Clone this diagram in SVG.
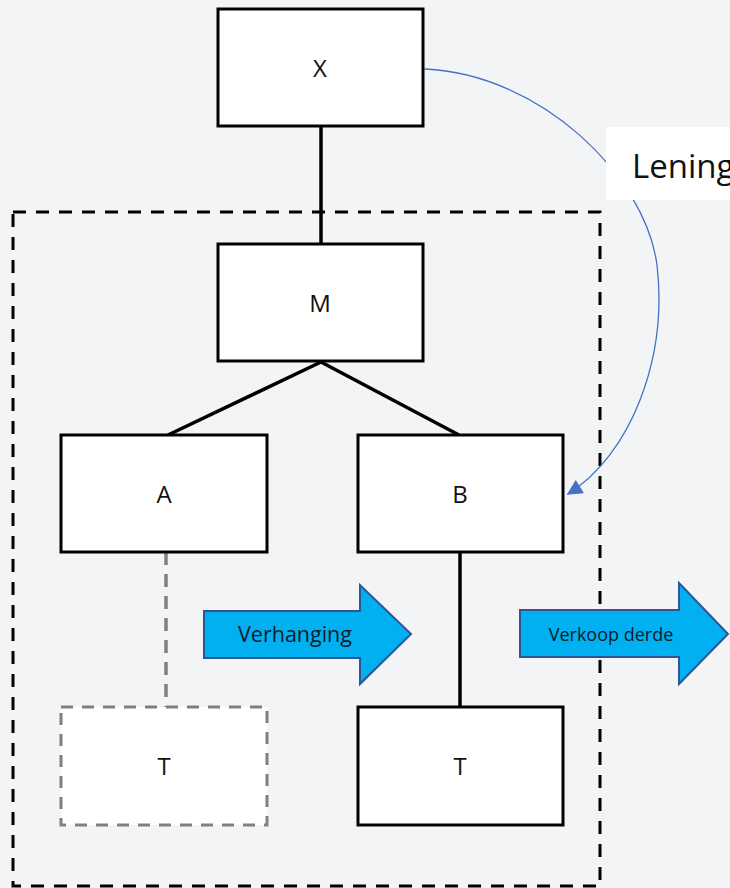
<svg xmlns="http://www.w3.org/2000/svg" width="730" height="888" viewBox="0 0 730 888">
  <style>
    .box { fill: #ffffff; stroke: #000000; stroke-width: 3; }
    .ghost { fill: #ffffff; stroke: #808080; stroke-width: 3; stroke-dasharray: 12 9; }
    .lbl { font-family: "Open Sans", "Liberation Sans", sans-serif; font-size: 24px; fill: #111111; text-anchor: middle; }
    .link { stroke: #000000; stroke-width: 3.5; fill: none; }
    .arrow { fill: #00b0f0; stroke: #2f5597; stroke-width: 2; }
    .alabel { font-family: "Open Sans", "Liberation Sans", sans-serif; fill: #0d1b2a; text-anchor: middle; }
  </style>
  <defs>
    <marker id="blueHead" viewBox="0 0 10 10" refX="9" refY="5" markerWidth="14" markerHeight="12" orient="auto-start-reverse" markerUnits="strokeWidth">
      <path d="M0,0 L10,5 L0,10 z" fill="#4472c4"/>
    </marker>
  </defs>
  <rect width="730" height="888" fill="#f3f4f6"/>

  <!-- group boundary -->
  <rect x="13" y="212" width="587" height="674" fill="none" stroke="#000" stroke-width="3" stroke-dasharray="13 10"/>

  <g id="connectors">
    <line class="link" x1="321" y1="126" x2="321" y2="244"/>
    <line class="link" x1="321" y1="362" x2="168" y2="435"/>
    <line class="link" x1="321" y1="362" x2="459" y2="435"/>
    <line x1="166" y1="552" x2="166" y2="707" stroke="#808080" stroke-width="3.5" stroke-dasharray="13 9"/>
    <line class="link" x1="460" y1="552" x2="460" y2="707"/>
    <path d="M425,69 C540,74 645,175 657,265 C668,360 630,455 568,494" fill="none" stroke="#4472c4" stroke-width="1.3" marker-end="url(#blueHead)" style="stroke-linecap:round"/>
  </g>

  <g id="lening">
    <rect x="606" y="127" width="130" height="73" fill="#ffffff"/>
    <text x="632" y="178" font-family="'Open Sans', 'Liberation Sans', sans-serif" font-size="33" fill="#111">Lening</text>
  </g>

  <g id="node-x">
    <rect class="box" x="218" y="9" width="205" height="117"/>
    <text class="lbl" x="320" y="77">X</text>
  </g>
  <g id="node-m">
    <rect class="box" x="218" y="244" width="205" height="117"/>
    <text class="lbl" x="320" y="312">M</text>
  </g>
  <g id="node-a">
    <rect class="box" x="61" y="435" width="206" height="117"/>
    <text class="lbl" x="164" y="503">A</text>
  </g>
  <g id="node-b">
    <rect class="box" x="358" y="435" width="205" height="117"/>
    <text class="lbl" x="460" y="503">B</text>
  </g>
  <g id="node-t-old">
    <rect class="ghost" x="61" y="707" width="206" height="118"/>
    <text class="lbl" x="164" y="775">T</text>
  </g>
  <g id="node-t-new">
    <rect class="box" x="358" y="707" width="205" height="118"/>
    <text class="lbl" x="460" y="775">T</text>
  </g>

  <g id="arrow-verhanging">
    <path class="arrow" d="M204,611 L360,611 L360,585 L411,634 L360,684 L360,658 L204,658 Z"/>
    <text class="alabel" x="295" y="642" font-size="21.5">Verhanging</text>
  </g>
  <g id="arrow-verkoop">
    <path class="arrow" d="M520,610 L679,610 L679,583 L728,634 L679,684 L679,657 L520,657 Z"/>
    <text class="alabel" x="611" y="641" font-size="18">Verkoop derde</text>
  </g>
</svg>
